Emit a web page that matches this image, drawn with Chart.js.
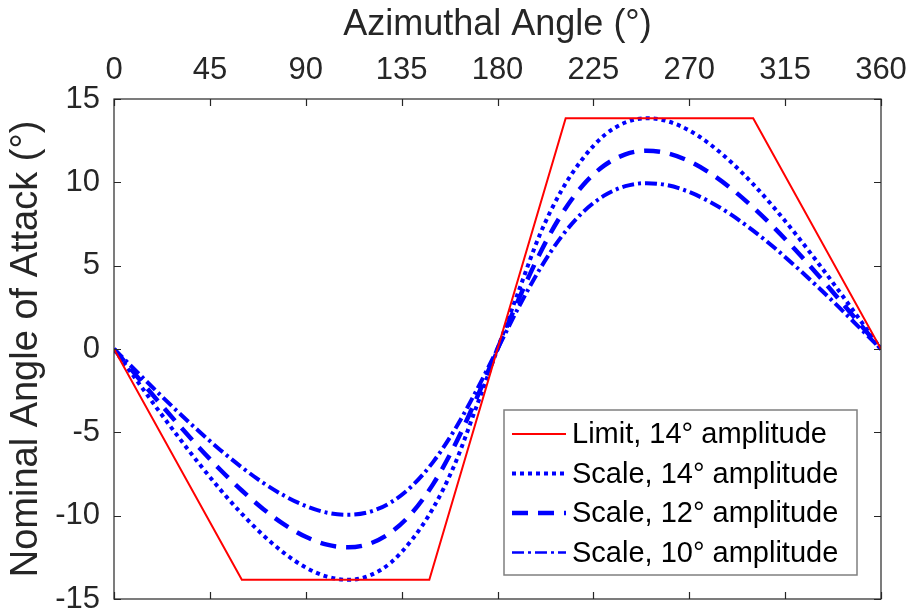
<!DOCTYPE html>
<html>
<head>
<meta charset="utf-8">
<script src="https://cdn.jsdelivr.net/npm/chart.js@4.4.1/dist/chart.umd.min.js"></script>
<style>
  html, body { margin: 0; padding: 0; background: #fff; }
</style>
</head>
<body>
<canvas id="aoaChart" width="910" height="615"></canvas>
<script>
/* Nominal angle of attack vs azimuth */

const INK  = '#262626';
const RED  = '#ff0000';
const BLUE = '#0000ff';
const FONT = '"Liberation Sans", Arial, Helvetica, sans-serif';

// azimuth (deg) for the scaled curves
const angles = [0, 10, 20, 30, 40, 50, 60, 70, 80, 90, 100, 110, 120, 130, 140, 150, 160, 170, 180,
                190, 200, 210, 220, 230, 240, 250, 260, 270, 280, 290, 300, 310, 320, 330, 340, 350, 360];

const scale14 = [0, -1.77, -3.53, -5.24, -6.89, -8.45, -9.89, -11.17, -12.26, -13.11, -13.66, -13.85, -13.59, -12.81, -11.42, -9.5, -6.9, -3.5, 0,
                 3.5, 6.9, 9.5, 11.42, 12.81, 13.59, 13.85, 13.66, 13.11, 12.26, 11.17, 9.89, 8.45, 6.89, 5.24, 3.53, 1.77, 0];
const scale12 = [0, -1.52, -3.03, -4.5, -5.92, -7.26, -8.49, -9.6, -10.54, -11.27, -11.74, -11.9, -11.68, -11.0, -9.81, -8.06, -5.76, -3.01, 0,
                 3.01, 5.76, 8.06, 9.81, 11.0, 11.68, 11.9, 11.74, 11.27, 10.54, 9.6, 8.49, 7.26, 5.92, 4.5, 3.03, 1.52, 0];
const scale10 = [0, -1.27, -2.54, -3.77, -4.95, -6.07, -7.1, -8.03, -8.81, -9.42, -9.82, -9.95, -9.77, -9.2, -8.2, -6.74, -4.82, -2.52, 0,
                 2.52, 4.82, 6.74, 8.2, 9.2, 9.77, 9.95, 9.82, 9.42, 8.81, 8.03, 7.1, 6.07, 4.95, 3.77, 2.54, 1.27, 0];

// limit curve corners
const limitAngles = [0, 60, 148, 212, 300, 360];
const limitValues = [0, -13.85, -13.85, 13.85, 13.85, 0];

const xTicks = [0, 45, 90, 135, 180, 225, 270, 315, 360];
const yTicks = [-15, -10, -5, 0, 5, 10, 15];

const pts = (xs, ys) => xs.map((x, i) => ({ x, y: ys[i] }));

/* box, inward ticks and inset legend, MATLAB style */
const matlabFrame = {
  id: 'matlabFrame',
  afterDraw(chart) {
    const { ctx, chartArea: a, scales } = chart;
    const tl = 7;
    ctx.save();
    ctx.strokeStyle = INK;
    ctx.lineWidth = 1.2;
    ctx.strokeRect(a.left, a.top, a.right - a.left, a.bottom - a.top);
    ctx.beginPath();
    xTicks.forEach(v => {
      const px = Math.round(scales.x.getPixelForValue(v)) + 0.5;
      ctx.moveTo(px, a.top); ctx.lineTo(px, a.top + tl);
      ctx.moveTo(px, a.bottom); ctx.lineTo(px, a.bottom - tl);
    });
    yTicks.forEach(v => {
      const py = Math.round(scales.y.getPixelForValue(v)) + 0.5;
      ctx.moveTo(a.left, py); ctx.lineTo(a.left + tl, py);
      ctx.moveTo(a.right, py); ctx.lineTo(a.right - tl, py);
    });
    ctx.stroke();

    // legend box in lower right
    const w = 353, h = 165;
    const bx = a.right - 24 - w, by = a.bottom - 24 - h;
    ctx.fillStyle = '#fff';
    ctx.fillRect(bx, by, w, h);
    ctx.strokeStyle = '#7f7f7f';
    ctx.lineWidth = 1.5;
    ctx.strokeRect(bx, by, w, h);
    ctx.font = '29px ' + FONT;
    ctx.textBaseline = 'middle';
    ctx.fillStyle = '#000';
    chart.data.datasets.forEach((ds, i) => {
      const cy = by + 24 + i * 39.5;
      ctx.save();
      ctx.strokeStyle = ds.borderColor;
      ctx.lineWidth = ds.legendWidth || ds.borderWidth;
      ctx.setLineDash(ds.borderDash || []);
      ctx.beginPath();
      ctx.moveTo(bx + 8, cy); ctx.lineTo(bx + 62, cy);
      ctx.stroke();
      ctx.restore();
      ctx.fillText(ds.label, bx + 68, cy + 1);
    });
    ctx.restore();
  }
};

new Chart(document.getElementById('aoaChart'), {
  type: 'line',
  data: {
    datasets: [
      {
        label: 'Limit, 14° amplitude',
        data: pts(limitAngles, limitValues),
        borderColor: RED, borderWidth: 2, tension: 0, pointRadius: 0
      },
      {
        label: 'Scale, 14° amplitude',
        data: pts(angles, scale14),
        borderColor: BLUE, borderWidth: 4, borderDash: [4, 4],
        cubicInterpolationMode: 'monotone', pointRadius: 0
      },
      {
        label: 'Scale, 12° amplitude',
        data: pts(angles, scale12),
        borderColor: BLUE, borderWidth: 4.5, borderDash: [16, 10],
        cubicInterpolationMode: 'monotone', pointRadius: 0
      },
      {
        label: 'Scale, 10° amplitude',
        data: pts(angles, scale10),
        borderColor: BLUE, borderWidth: 4, borderDash: [12, 4, 3, 4], legendWidth: 2.5,
        cubicInterpolationMode: 'monotone', pointRadius: 0
      }
    ]
  },
  options: {
    responsive: false,
    animation: false,
    layout: { padding: { left: 0, top: 0, right: 29, bottom: 16 } },
    plugins: { legend: { display: false }, tooltip: { enabled: false } },
    scales: {
      x: {
        type: 'linear', position: 'top', min: 0, max: 360,
        afterBuildTicks: s => { s.ticks = xTicks.map(v => ({ value: v })); },
        afterFit: s => { s.height = 99; s.paddingLeft = 0; s.paddingRight = 0; },
        grid: { display: false, drawTicks: false },
        border: { display: false },
        ticks: { padding: 10, color: INK, maxRotation: 0, autoSkip: false, font: { family: FONT, size: 31 } },
        title: { display: true, text: 'Azimuthal Angle (°)', color: INK, padding: { top: 3, bottom: 0 }, font: { family: FONT, size: 36 } }
      },
      y: {
        type: 'linear', min: -15, max: 15,
        afterBuildTicks: s => { s.ticks = yTicks.map(v => ({ value: v })); },
        afterFit: s => { s.width = 114; s.paddingTop = 0; s.paddingBottom = 0; },
        grid: { display: false, drawTicks: false },
        border: { display: false },
        ticks: { padding: 14, color: INK, font: { family: FONT, size: 31 } },
        title: { display: true, text: 'Nominal Angle of Attack (°)', color: INK, padding: { top: 4, bottom: 0 }, font: { family: FONT, size: 38 } }
      }
    }
  },
  plugins: [matlabFrame]
});
</script>
</body>
</html>
